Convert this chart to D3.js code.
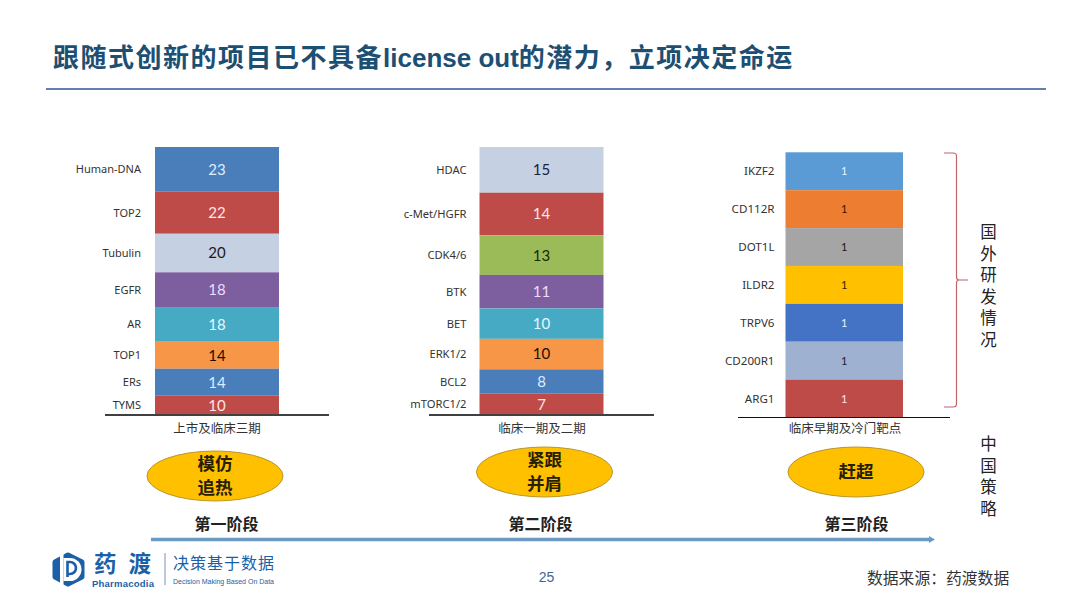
<!DOCTYPE html>
<html><head><meta charset="utf-8">
<script src="https://cdn.jsdelivr.net/npm/d3@7/dist/d3.min.js"></script>
<style>html,body{margin:0;padding:0;background:#fff}svg{display:block}</style>
</head><body><svg id="c" width="1080" height="608"></svg>
<script>
const cats1=["Human-DNA","TOP2","Tubulin","EGFR","AR","TOP1","ERs","TYMS"];
const vals1=[23,22,20,18,18,14,14,10];
const fills1=["#4a7ebb","#be4b48","#c5d0e3","#7d5fa0","#46aac5","#f79646","#4a7ebb","#be4b48"];
const inks1=["#dcecff","#ffe6e6","#1a1a1a","#ecdcff","#e4f8ff","#1a1000","#dcecff","#ffe6e6"];
const cats2=["HDAC","c-Met/HGFR","CDK4/6","BTK","BET","ERK1/2","BCL2","mTORC1/2"];
const vals2=[15,14,13,11,10,10,8,7];
const fills2=["#c5d0e3","#be4b48","#9bbb59","#7d5fa0","#46aac5","#f79646","#4a7ebb","#be4b48"];
const inks2=["#1a2238","#ffe6e6","#1a2a00","#ecdcff","#e4f8ff","#1a1000","#dcecff","#ffe6e6"];
const cats3=["IKZF2","CD112R","DOT1L","ILDR2","TRPV6","CD200R1","ARG1"];
const vals3=[1,1,1,1,1,1,1];
const fills3=["#5b9bd5","#ed7d31","#a5a5a5","#ffc000","#4472c4","#9fb1d1","#be4b48"];
const inks3=["#e4f4ff","#401000","#1a1a1a","#402000","#e4f4ff","#1a2238","#ffe6e6"];
const periods=["上市及临床三期","临床一期及二期","临床早期及冷门靶点"];
const strategies=[["模仿","追热"],["紧跟","并肩"],["赶超"]];
const stages=["第一阶段","第二阶段","第三阶段"];
const titleParts=["跟随式创新的项目已不具备","license out","的潜力，立项决定命运"];
const sideTop="国外研发情况";
const sideBottom="中国策略";

const svg=d3.select("#c");
const CJK='"Noto Sans CJK SC","Liberation Sans",sans-serif';
const LAT='"Noto Sans","Noto Sans CJK SC",sans-serif';
const NUM='Lato,"Open Sans",sans-serif';

const title=svg.append("text").attr("x",53).attr("y",66.5).attr("fill","#1d4f73")
  .attr("font-family",'"Liberation Sans","Noto Sans CJK SC",sans-serif').attr("font-weight",700).attr("font-size",26);
title.selectAll("tspan").data(titleParts).join("tspan").attr("letter-spacing",(d,i)=>i==1?0:1.5).text(d=>d);
svg.append("line").attr("x1",46).attr("x2",1046).attr("y1",89).attr("y2",89).attr("stroke","#2f5597").attr("stroke-width",1.3);

const panels=[
 {c:cats1,v:vals1,f:fills1,k:inks1,x0:155,x1:279,top:147,bot:415,lx:141,lf:11,ax0:105,ax1:329,axW:2,axC:"#404040",fs:15,per:217,pery:433,el:[215,476],st:226.5},
 {c:cats2,v:vals2,f:fills2,k:inks2,x0:479.5,x1:603.5,top:147,bot:415,lx:466.5,lf:11.2,ax0:429,ax1:654,axW:2,axC:"#404040",fs:15,per:542,pery:433,el:[544.5,472],st:540.5},
 {c:cats3,v:vals3,f:fills3,k:inks3,x0:785.5,x1:903,top:152.3,bot:417.5,lx:774.5,lf:11.6,ax0:738,ax1:950,axW:1,axC:"#111",fs:11,per:845,pery:433,el:[856,472],st:856.5}
];
panels.forEach((p,pi)=>{
  const total=d3.sum(p.v);
  const y=d3.scaleLinear().domain([0,total]).range([p.top,p.bot]);
  let acc=0;
  const rows=p.c.map((name,i)=>{const r={name,v:p.v[i],f:p.f[i],k:p.k[i],a:acc,b:acc+p.v[i]};acc=r.b;return r;});
  const g=svg.append("g");
  g.selectAll("rect").data(rows).join("rect")
    .attr("x",p.x0).attr("width",p.x1-p.x0)
    .attr("y",d=>y(d.a)).attr("height",d=>y(d.b)-y(d.a)).attr("fill",d=>d.f);
  g.selectAll("text.v").data(rows).join("text").attr("class","v")
    .attr("x",(p.x0+p.x1)/2).attr("y",d=>(y(d.a)+y(d.b))/2).attr("dy","0.36em")
    .attr("text-anchor","middle").attr("font-family",NUM).attr("font-size",p.fs).attr("fill",d=>d.k).text(d=>d.v);
  g.selectAll("text.l").data(rows).join("text").attr("class","l")
    .attr("x",p.lx).attr("y",d=>(y(d.a)+y(d.b))/2).attr("dy","0.36em")
    .attr("text-anchor","end").attr("font-family",LAT).attr("font-size",p.lf).attr("fill","#333").text(d=>d.name);
  g.append("line").attr("x1",p.ax0).attr("x2",p.ax1).attr("y1",p.bot).attr("y2",p.bot).attr("stroke",p.axC).attr("stroke-width",p.axW);
  svg.append("text").attr("x",p.per).attr("y",p.pery).attr("text-anchor","middle").attr("font-family",CJK).attr("font-size",12.5).attr("fill","#333").text(periods[pi]);
  svg.append("ellipse").attr("cx",p.el[0]).attr("cy",p.el[1]).attr("rx",68).attr("ry",25).attr("fill","#ffc000").attr("stroke","#b8962e").attr("stroke-width",1);
  const lines=strategies[pi];
  svg.selectAll(null).data(lines).join("text").attr("x",p.el[0]).attr("text-anchor","middle")
    .attr("y",(d,i)=>p.el[1]+(lines.length==1?0:(i-0.5)*24)).attr("dy","0.36em")
    .attr("font-family",CJK).attr("font-weight",700).attr("font-size",17.5).attr("fill","#262000").text(d=>d);
  svg.append("text").attr("x",p.st).attr("y",529.5).attr("text-anchor","middle").attr("font-family",CJK).attr("font-weight",700).attr("font-size",16).attr("fill","#222").text(stages[pi]);
});

// arrow
svg.append("line").attr("x1",151).attr("x2",930).attr("y1",539.5).attr("y2",539.5).attr("stroke","#6a99c4").attr("stroke-width",3.5);
svg.append("path").attr("d",d3.line()([[929,536],[935,539.5],[929,543]])).attr("fill","#6a99c4");

// brace
svg.append("path").attr("fill","none").attr("stroke","#c0636a").attr("stroke-width",1.2)
 .attr("d","M944,153 H953 Q956.5,153 956.5,156 V277 Q956.5,280 959,280 H968 M959,280 Q956.5,280 956.5,283 V404 Q956.5,407 953,407 H944");

// vertical side captions
[[sideTop,223.5],[sideBottom,435.5]].forEach(([t,y0])=>{
  svg.append("text").attr("transform",`translate(988.5,${y0})`)
    .style("writing-mode","vertical-rl").style("text-orientation","upright")
    .attr("font-family",CJK).attr("font-size",16.5).attr("letter-spacing",5.1).attr("fill","#222").text(t);
});

// footer
svg.append("text").attr("x",546.5).attr("y",582).attr("text-anchor","middle").attr("font-family",'"Liberation Sans",sans-serif').attr("font-size",14).attr("fill","#44668c").text("25");
svg.append("text").attr("x",867).attr("y",583.5).attr("font-family",CJK).attr("font-size",15.8).attr("fill","#333").text("数据来源：药渡数据");

// logo
const B="#1a5fa8";
svg.append("path").attr("fill",B).attr("stroke",B).attr("stroke-width",5).attr("stroke-linejoin","round")
  .attr("d","M68,555 L82,562 V577 L68,584 L55,577 V562 Z");
svg.append("rect").attr("x",60).attr("y",550).attr("width",3.5).attr("height",40).attr("fill","#fff");
svg.append("path").attr("fill","#fff").attr("d","M63.5,558 H70 A11.5,11.5 0 0 1 70,581 H63.5 Z");
svg.append("path").attr("fill","none").attr("stroke",B).attr("stroke-width",2.6).attr("d","M67.5,577 V562 H70 A6,6 0 0 1 70,574 H67.5");
svg.append("text").attr("x",94).attr("y",571.5).attr("font-family",CJK).attr("font-weight",700).attr("font-size",22.5).attr("fill",B).text("药");
svg.append("text").attr("x",128.5).attr("y",571.5).attr("font-family",CJK).attr("font-weight",700).attr("font-size",22.5).attr("fill",B).text("渡");
svg.append("text").attr("x",92).attr("y",586.5).attr("font-family",'"Liberation Sans",sans-serif').attr("font-weight",700).attr("font-size",9.5).attr("fill",B).attr("textLength",62).text("Pharmacodia");
svg.append("line").attr("x1",165).attr("x2",165).attr("y1",553).attr("y2",585).attr("stroke","#7a93ad").attr("stroke-width",1);
svg.append("text").attr("x",173).attr("y",569).attr("font-family",CJK).attr("font-size",16).attr("fill","#1a5fa8").attr("textLength",101).text("决策基于数据");
svg.append("text").attr("x",173).attr("y",584).attr("font-family",'"Liberation Sans",sans-serif').attr("font-size",7).attr("fill","#1a5fa8").attr("textLength",101).text("Decision Making Based On Data");
</script></body></html>
